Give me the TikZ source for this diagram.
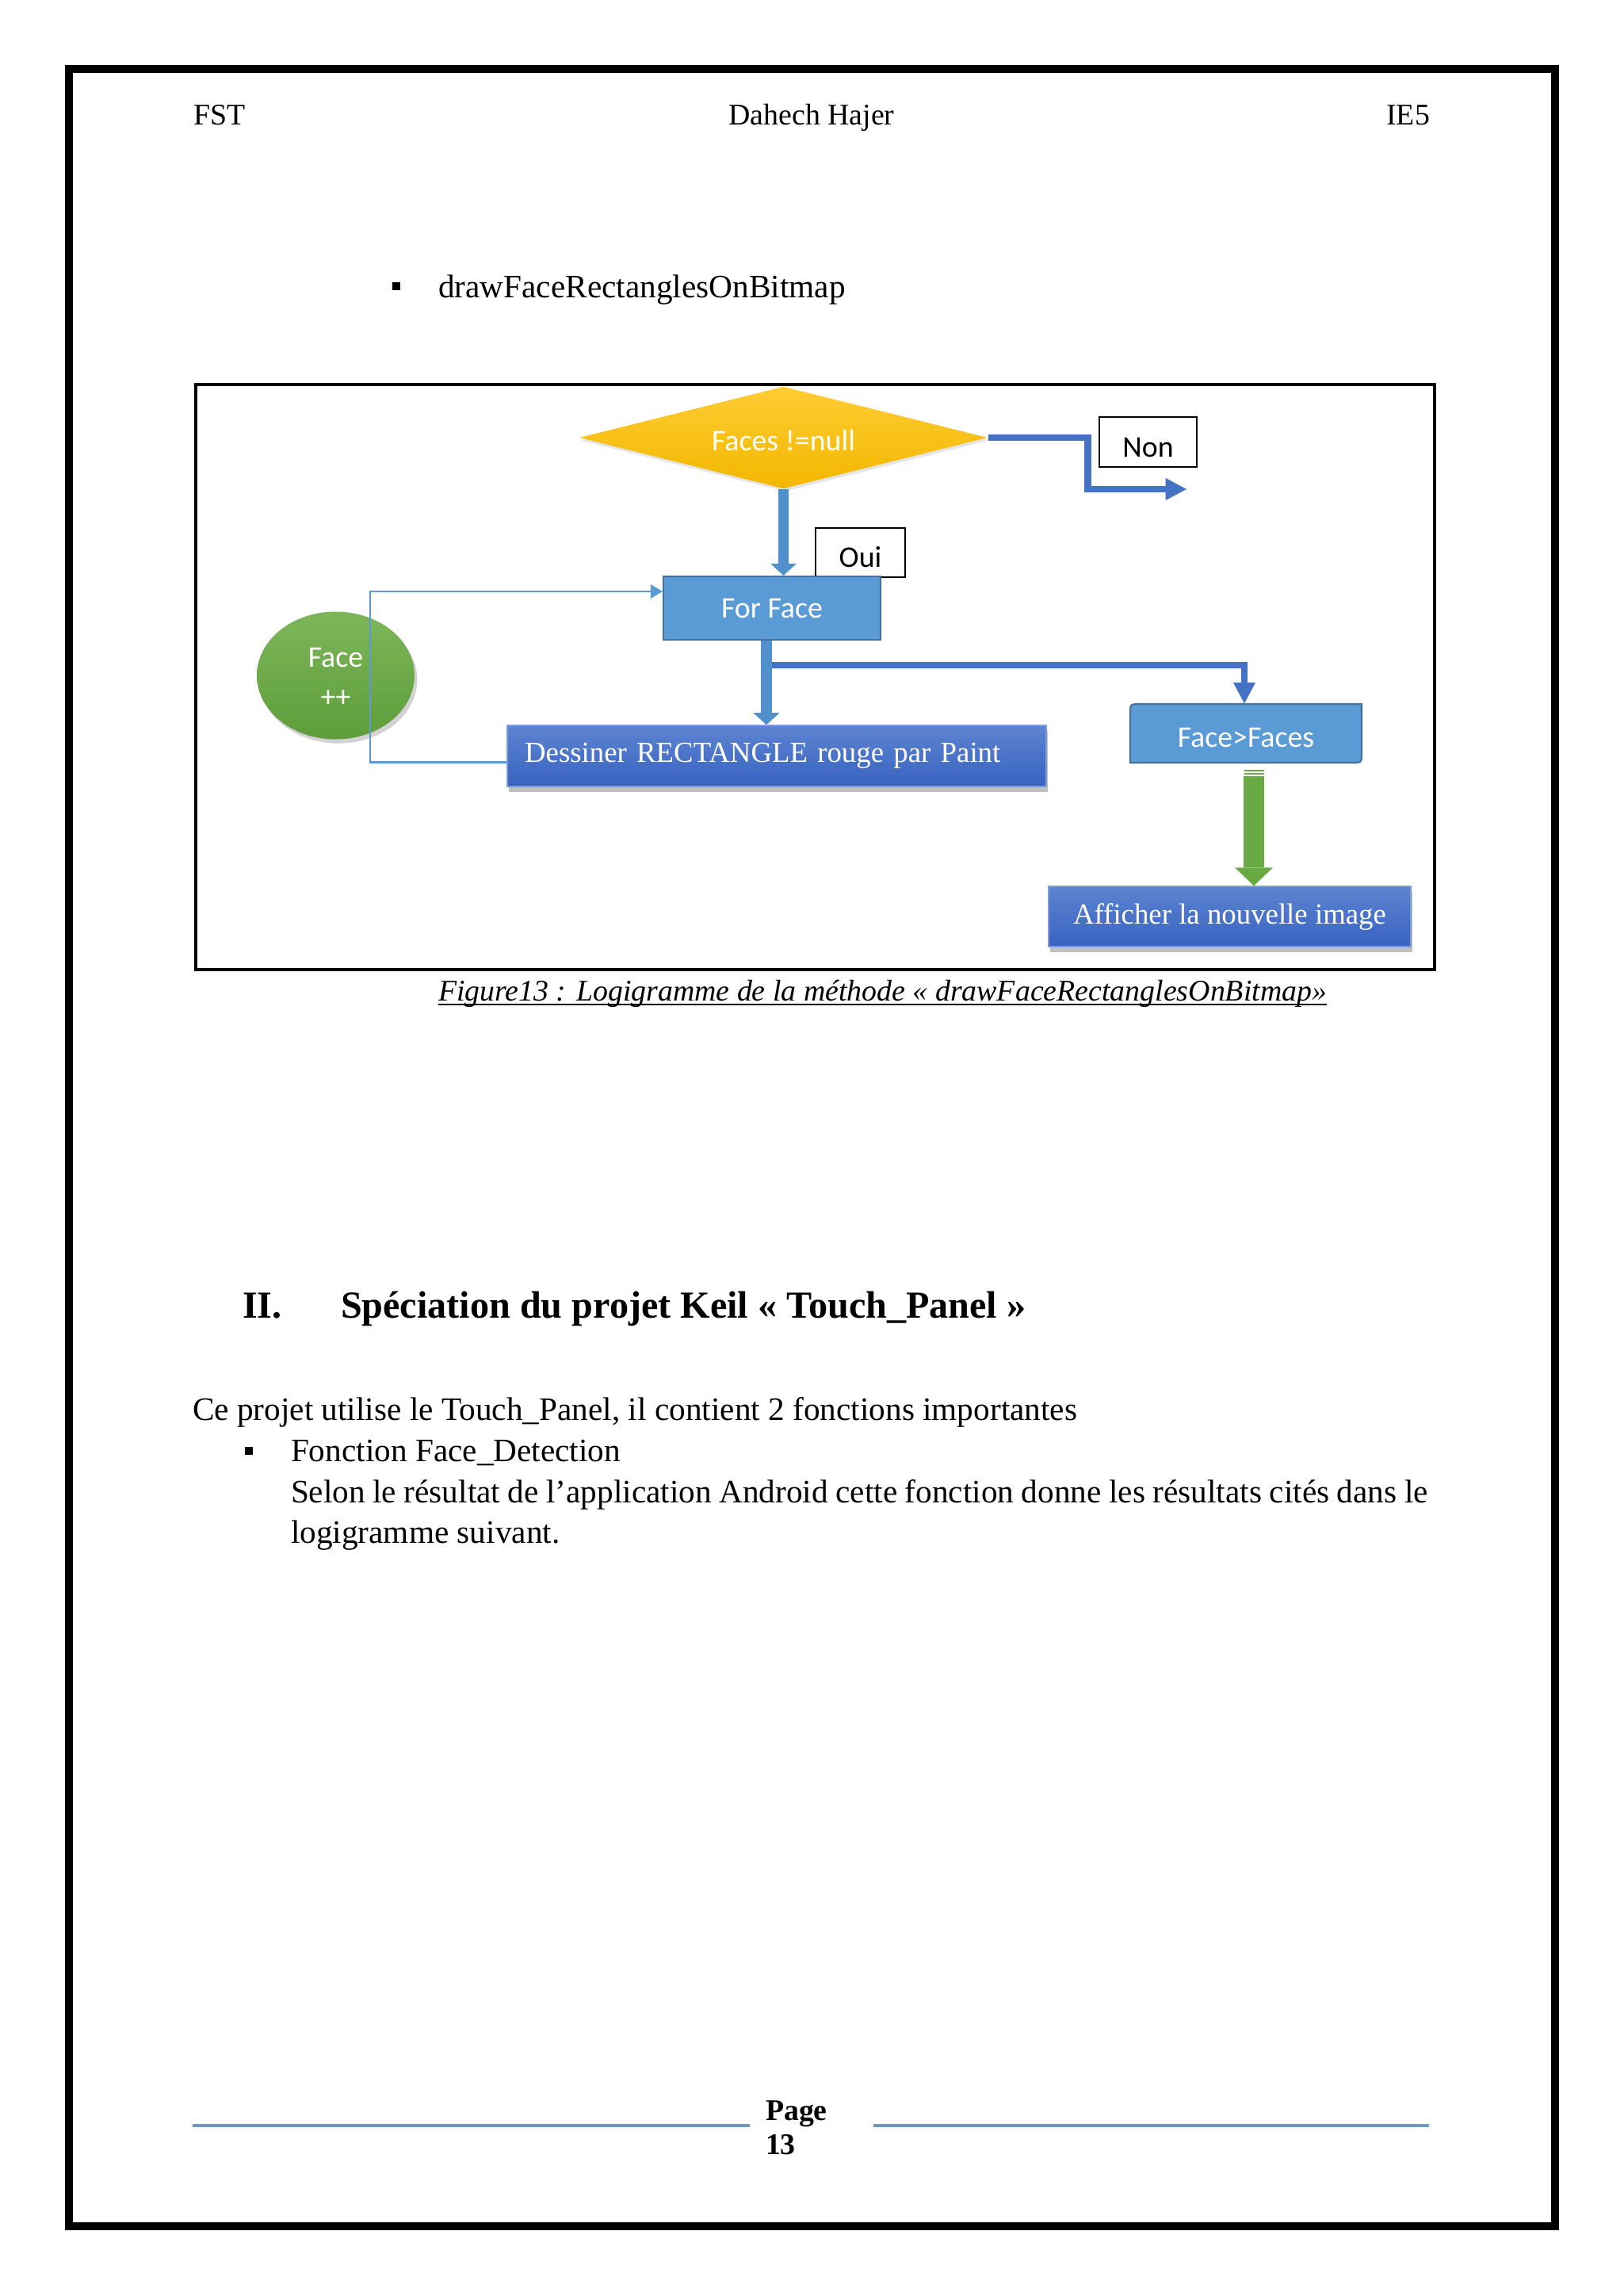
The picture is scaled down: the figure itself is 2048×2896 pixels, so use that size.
\documentclass[tikz,border=0pt]{standalone}
\usepackage{fontspec}
\setmainfont{Liberation Serif}
\newfontfamily\calib{Carlito}
\usetikzlibrary{shapes.geometric,arrows.meta,calc,shadows}
\definecolor{boxblue}{HTML}{5B9BD5}
\definecolor{boxedge}{HTML}{41719C}
\definecolor{linkblue}{HTML}{4472C4}
\definecolor{arrowblue}{HTML}{5090CC}
\definecolor{destop}{HTML}{5D84D1}
\definecolor{desbot}{HTML}{3862C0}
\definecolor{goldtop}{HTML}{FFCC33}
\definecolor{goldbot}{HTML}{F2B700}
\definecolor{greentop}{HTML}{7DB65A}
\definecolor{greenbot}{HTML}{5E9D3A}
\definecolor{greenarr}{HTML}{6AAA42}
\definecolor{footline}{HTML}{6F95C4}
\newcommand\myfs[2]{\fontsize{#1}{#2}\selectfont}
\newcommand\lowtxt[2]{\raisebox{-#1}[\height][\depth]{#2}}
\begin{document}
\begin{tikzpicture}[x=0.29066pt,y=-0.29066pt,
  txt/.style={inner sep=0pt, outer sep=0pt, anchor=base west, font=\myfs{12}{14}},
  sq/.style={fill=black, minimum size=2.9pt, inner sep=0pt},
  flowbox/.style={rectangle, fill=boxblue, draw=boxedge, line width=0.6pt, text=white, font=\calib\myfs{11}{13}, inner sep=0pt},
  labelbox/.style={rectangle, fill=white, draw=black, line width=0.5pt, font=\calib\myfs{11}{13}, inner sep=0pt},
  bigbox/.style={rectangle, top color=destop, bottom color=desbot, draw=destop!80!white, line width=0.4pt, text=white, font=\myfs{10.7}{13}, inner sep=0pt,
    drop shadow={shadow xshift=0.6pt, shadow yshift=-2pt, opacity=0.35, fill=black!70}},
  fatblue/.style={draw=arrowblue, line width=3.8pt, -{Triangle[length=4.4pt,width=9.6pt,line width=0pt]}},
  linkarrow/.style={draw=linkblue, line width=2.5pt, -{Triangle[length=7.7pt,width=8.2pt,line width=0pt]}},
  loopline/.style={draw=boxblue, line width=0.6pt, -{Triangle[length=4.4pt,width=5.2pt,line width=0pt]}},
  greenarrow/.style={draw=greenarr, line width=7.3pt, -{Triangle[length=6.7pt,width=14pt,line width=0pt]}}
]
\useasboundingbox (0,0) rectangle (2048,2896);
\fill[white] (0,0) rectangle (2048,2896);
% page border
\draw[line width=2.9pt] (87,87) rectangle (1962,2808);

% header
\node[txt, font=\myfs{11}{13}] (hl) at (244,157) {FST};
\node[txt, anchor=base, font=\myfs{11}{13}] (hc) at (1024,157) {Dahech Hajer};
\node[txt, anchor=base east, font=\myfs{11}{13}] (hr) at (1804,157) {IE5};

% bullet item
\node[sq] (b1) at (500,361) {};
\node[txt] (item1) at (553,375) {drawFaceRectanglesOnBitmap};

% diagram frame
\draw[line width=0.9pt] (247,485) rectangle (1810,1223);

% decision diamond
\node[diamond, aspect=4, minimum width=149.7pt, minimum height=37.5pt, inner sep=0pt,
  top color=goldtop, bottom color=goldbot, draw=none, text=white, font=\calib\myfs{11}{13},
  drop shadow={shadow xshift=0.5pt, shadow yshift=-1pt, opacity=0.2}] (dia) at (988.5,552) {\lowtxt{1pt}{Faces !=null}};

% label boxes
\node[labelbox, minimum width=35.8pt, minimum height=18.3pt] (non) at (1448.5,557.5) {\lowtxt{2pt}{Non}};
\node[labelbox, minimum width=32.8pt, minimum height=18pt] (oui) at (1085.5,697) {\lowtxt{1.6pt}{Oui}};

% loop node
\node[ellipse, minimum width=57.8pt, minimum height=46.8pt, inner sep=0pt,
  top color=greentop, bottom color=greenbot, text=white, font=\calib\myfs{11}{13},
  drop shadow={shadow xshift=1pt, shadow yshift=-1.5pt, opacity=0.35}] (inc) at (423.5,852)
  {\lowtxt{1.6pt}{\begin{tabular}{@{}c@{}}Face\\[1.8pt]++\end{tabular}}};

% process boxes
\node[flowbox, minimum width=79.6pt, minimum height=23.3pt] (for) at (974,767) {For Face};
\node[bigbox, minimum height=22.4pt, text width=184.8pt, inner xsep=6.4pt, align=left] (des) at (980,953.5) {Dessiner RECTANGLE rouge par Paint};

% Face>Faces box (two rounded diagonal corners)
\coordinate (ffc) at (1572,925);
\begin{scope}[shift={(ffc)}]
\filldraw[fill=boxblue, draw=boxedge, line width=0.6pt]
  (-146,37) -- (-146,-25) .. controls (-146,-37) .. (-134,-37) -- (146,-37)
  -- (146,25) .. controls (146,37) .. (134,37) -- cycle;
\end{scope}
\node[rectangle, inner sep=0pt, minimum width=84.9pt, minimum height=21.5pt, text=white, font=\calib\myfs{11}{13}] (ff) at (ffc) {\lowtxt{1.6pt}{Face>Faces}};

\node[bigbox, minimum width=132.8pt, minimum height=22.1pt] (aff) at (1551.5,1156) {Afficher la nouvelle image};

% connectors
\draw[fatblue] (dia.south) -- (dia.south |- for.north);
\coordinate (fs) at ($(for.south)+(-7,0)$);
\draw[linkarrow] ($(for.south)+(-7,31)$) -| ($(ff.north)+(-2,0)$);
\draw[fatblue] (fs) -- (fs |- des.north);
\coordinate (nonend) at (1497,617);
\draw[linkarrow] (dia.east) -- ++(126,0) |- (nonend);
\draw[loopline] ($(des.west)+(0,8)$) -- ++(-172,0) |- ($(for.west)+(0,-21)$);
% green striped arrow
\fill[greenarr] ($(ff.south)+(-2.5,8)$) rectangle ($(ff.south)+(22.5,10)$);
\fill[greenarr] ($(ff.south)+(-2.5,12)$) rectangle ($(ff.south)+(22.5,14.5)$);
\coordinate (gs) at ($(ff.south)+(10,16)$);
\draw[greenarrow] (gs) -- (gs |- aff.north);

% caption
\node[txt, font=\itshape\myfs{11}{13}] (cap) at (553,1262) {Figure13 : Logigramme de la méthode « drawFaceRectanglesOnBitmap»};
\draw[line width=0.5pt] ($(cap.base west)+(0,5)$) -- ($(cap.base east)+(0,5)$);

% section
\node[txt, font=\bfseries\myfs{14}{16}] (secnum) at (306,1662) {II.};
\node[txt, font=\bfseries\myfs{14}{16}] (sectitle) at (430,1662) {Spéciation du projet Keil « Touch\_Panel »};

% body text
\node[txt] (p1) at (243,1791) {Ce projet utilise le Touch\_Panel, il contient 2 fonctions importantes};
\node[sq] (b2) at (314,1830) {};
\node[txt] (p2) at (367,1843) {Fonction Face\_Detection};
\node[txt] (p3) at (367,1895) {\hbox to 417pt{Selon le résultat de l’application Android cette fonction donne les résultats cités dans le}};
\node[txt] (p4) at (367,1946) {logigramme suivant.};

% footer
\draw[footline, line width=0.9pt] (243,2681) -- (946,2681);
\draw[footline, line width=0.9pt] (1102,2681) -- (1803,2681);
\node[txt, font=\bfseries\myfs{11}{13}] (pg) at (966,2674) {Page};
\node[txt, font=\bfseries\myfs{11}{13}] (pgn) at (966,2717) {13};
\end{tikzpicture}
\end{document}
